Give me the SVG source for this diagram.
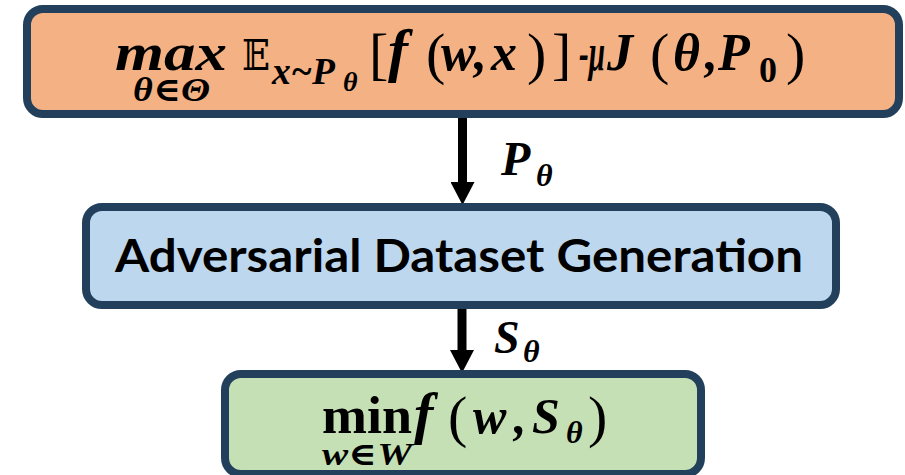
<svg xmlns="http://www.w3.org/2000/svg" width="905" height="475" viewBox="0 0 905 475">
<style>
.box{stroke:#223F5B;stroke-width:8}
.m{font-family:"Liberation Serif","DejaVu Serif",serif;font-weight:bold;font-style:italic;fill:#000}
.u{font-style:normal;font-weight:normal}
.ub{font-style:normal;font-weight:bold}
.lbl{font-family:"Lato","Liberation Sans",sans-serif;font-weight:bold;fill:#000}
.conn{stroke:#000;stroke-width:9;fill:none}
</style>
<defs>
<marker id="ah" markerUnits="userSpaceOnUse" markerWidth="24" markerHeight="24" viewBox="0 -12 23 24" refX="0" refY="0" orient="auto">
<path d="M0,-12 L23,0 L0,12 z" fill="#000"/>
</marker>
</defs>
<g id="connectors">
<line class="conn" x1="462.5" y1="118" x2="462.5" y2="182" marker-end="url(#ah)"/>
<line class="conn" x1="462" y1="309" x2="462" y2="350" marker-end="url(#ah)"/>
</g>
<g id="labels">
<text class="m" font-size="48"><tspan x="501" y="175">P</tspan><tspan x="536" y="186" font-size="32">θ</tspan></text>
<text class="m" font-size="46"><tspan x="494" y="353">S</tspan><tspan x="523" y="362" font-size="32">θ</tspan></text>
</g>
<g id="node-max">
<rect class="box" x="27" y="9" width="872" height="105" rx="16" fill="#F4B183"/>
<text class="m" font-size="52">
<tspan x="115" y="70" textLength="112" lengthAdjust="spacingAndGlyphs">max</tspan>
<tspan x="133" y="101" font-size="34" textLength="77" lengthAdjust="spacingAndGlyphs">θ∈Θ</tspan>
<tspan x="242" y="70" class="u" font-size="42" font-family="DejaVu Serif,DejaVu Sans,serif" textLength="28" lengthAdjust="spacingAndGlyphs">𝔼</tspan>
<tspan x="272" y="84" font-size="38" textLength="63" lengthAdjust="spacingAndGlyphs">x~P</tspan>
<tspan x="343" y="91" font-size="28">θ</tspan>
<tspan x="369" y="73" class="u" font-size="58">[</tspan>
<tspan x="388" y="70" font-size="60">f</tspan>
<tspan x="426" y="73" class="u" font-size="58">(</tspan>
<tspan x="441" y="70">w</tspan>
<tspan x="474" y="70">,</tspan>
<tspan x="491" y="70">x</tspan>
<tspan x="527" y="73" class="u" font-size="58">)</tspan>
<tspan x="552" y="73" class="u" font-size="58">]</tspan>
<tspan x="579" y="70" textLength="26" lengthAdjust="spacingAndGlyphs">-μ</tspan>
<tspan x="607" y="70">J</tspan>
<tspan x="650" y="73" class="u" font-size="58">(</tspan>
<tspan x="673" y="70">θ</tspan>
<tspan x="705" y="70">,</tspan>
<tspan x="718" y="70">P</tspan>
<tspan x="759" y="82" class="ub" font-size="36">0</tspan>
<tspan x="786" y="73" class="u" font-size="58">)</tspan>
</text>
</g>
<g id="node-generation">
<rect class="box" x="86" y="207" width="750" height="98" rx="16" fill="#BDD7EE"/>
<text class="lbl" x="115" y="272" font-size="45" textLength="688" lengthAdjust="spacingAndGlyphs">Adversarial Dataset Generation</text>
</g>
<g id="node-min">
<rect class="box" x="225" y="374" width="476" height="100" rx="16" fill="#C5E0B4"/>
<text class="m" font-size="50">
<tspan x="322" y="433" class="ub" font-size="52" textLength="90" lengthAdjust="spacingAndGlyphs">min</tspan>
<tspan x="322" y="465" font-size="32" textLength="90" lengthAdjust="spacingAndGlyphs">w∈W</tspan>
<tspan x="414" y="433" font-size="58">f</tspan>
<tspan x="448" y="436" class="u" font-size="58">(</tspan>
<tspan x="473" y="433">w</tspan>
<tspan x="514" y="433">,</tspan>
<tspan x="532" y="433">S</tspan>
<tspan x="566" y="443" font-size="32">θ</tspan>
<tspan x="588" y="436" class="u" font-size="58">)</tspan>
</text>
</g>
</svg>
